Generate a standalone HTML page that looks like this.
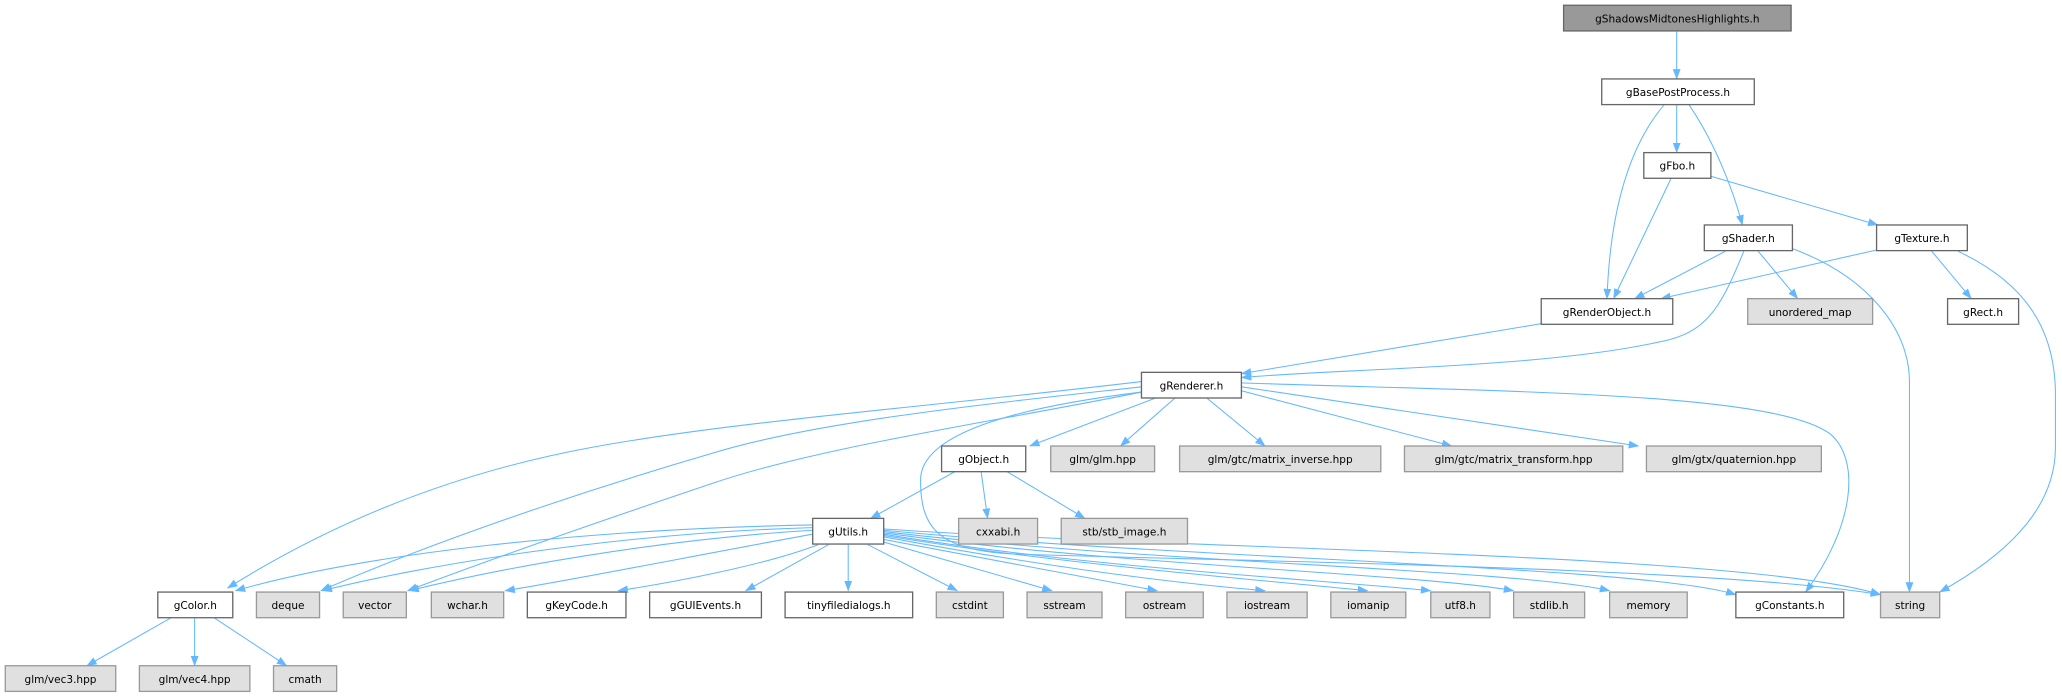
<!DOCTYPE html>
<html><head><meta charset="utf-8"><style>
html,body{margin:0;padding:0;background:#fff;}
svg{display:block;}
text{font-family:"DejaVu Sans","Liberation Sans",sans-serif;font-size:8px;fill:#000;text-anchor:middle;}
.e{fill:none;stroke:#63b8ff;stroke-width:0.8;marker-end:url(#a);}
.w{fill:#fff;stroke:#666;stroke-width:1;}
.g{fill:#e0e0e0;stroke:#999;stroke-width:1;}
.t{fill:#999;stroke:#666;stroke-width:1;}
</style></head><body>
<svg width="2062" height="696" viewBox="0 0 1568 529" preserveAspectRatio="none" xmlns="http://www.w3.org/2000/svg">
<defs><marker id="a" markerUnits="userSpaceOnUse" markerWidth="8" markerHeight="6" refX="7.5" refY="3" orient="auto"><path d="M0,0 L8,3 L0,6 z" fill="#63b8ff"/></marker></defs>
<path class="e" d="M1275,24 L1275,60"/>
<path class="e" d="M1266,79 C1235,115 1224,170 1222,227"/>
<path class="e" d="M1275,79 L1275,116"/>
<path class="e" d="M1284,79 C1305,110 1318,145 1325,171"/>
<path class="e" d="M1271,135 L1227,227"/>
<path class="e" d="M1301,134 L1428,171"/>
<path class="e" d="M1312,191 L1243,227"/>
<path class="e" d="M1326,191 C1310,230 1300,250 1270,258 C1180,280 1020,280 944,287"/>
<path class="e" d="M1337,191 L1367,227"/>
<path class="e" d="M1363,189 C1420,210 1452,250 1452,290 L1452,450"/>
<path class="e" d="M1427,190 L1263,227"/>
<path class="e" d="M1469,191 L1499,227"/>
<path class="e" d="M1489,191 C1540,215 1563,250 1563,300 L1563,340 C1563,390 1520,425 1475,450"/>
<path class="e" d="M1172,246 L944,284"/>
<path class="e" d="M880,302 L783,339"/>
<path class="e" d="M894,302 L852,339"/>
<path class="e" d="M917,302 L962,339"/>
<path class="e" d="M944,297 L1104,339"/>
<path class="e" d="M944,294 L1246,339"/>
<path class="e" d="M944,291 C1150,298 1350,298 1392,330 C1415,350 1410,400 1373,450"/>
<path class="e" d="M868,298 C770,310 700,330 700,365 C700,400 712,418 770,421 C900,426 1300,430 1430,452"/>
<path class="e" d="M868,290 C700,310 560,320 450,340 C330,362 240,405 173,447"/>
<path class="e" d="M868,294 C760,306 620,320 540,345 C420,380 310,420 244,449"/>
<path class="e" d="M868,298 C760,320 620,340 540,368 C430,405 360,430 310,449"/>
<path class="e" d="M727,358 L662,394"/>
<path class="e" d="M746,358 L751,394"/>
<path class="e" d="M765,358 L825,394"/>
<path class="e" d="M618,399 C450,402 280,420 179,449"/>
<path class="e" d="M618,401 C470,405 320,430 245,449"/>
<path class="e" d="M618,403 C500,410 380,432 311,449"/>
<path class="e" d="M618,406 C540,420 440,440 384,449"/>
<path class="e" d="M622,414 C580,430 510,443 470,449"/>
<path class="e" d="M630,414 L567,449"/>
<path class="e" d="M645,414 L645,449"/>
<path class="e" d="M660,414 L728,449"/>
<path class="e" d="M672,412 L800,449"/>
<path class="e" d="M672,410 L880,449"/>
<path class="e" d="M672,408 C780,428 880,442 962,449"/>
<path class="e" d="M672,407 C800,428 950,440 1040,449"/>
<path class="e" d="M672,406 C830,432 1000,440 1088,449"/>
<path class="e" d="M672,405 C850,430 1080,436 1151,449"/>
<path class="e" d="M672,404 C870,428 1150,432 1224,449"/>
<path class="e" d="M672,403 C900,425 1250,430 1320,452"/>
<path class="e" d="M672,402 C900,418 1330,420 1430,452"/>
<path class="e" d="M131,469 L66,506"/>
<path class="e" d="M148,469 L148,506"/>
<path class="e" d="M162,469 L218,506"/>
<rect class="t" x="1189" y="4" width="173" height="19.5"/><text x="1275.5" y="17">gShadowsMidtonesHighlights.h</text>
<rect class="w" x="1218" y="60" width="116" height="19.5"/><text x="1276" y="73">gBasePostProcess.h</text>
<rect class="w" x="1250" y="116" width="51" height="19.5"/><text x="1275.5" y="129">gFbo.h</text>
<rect class="w" x="1296" y="171" width="67" height="19.5"/><text x="1329.5" y="184">gShader.h</text>
<rect class="w" x="1427" y="171" width="69" height="19.5"/><text x="1461.5" y="184">gTexture.h</text>
<rect class="w" x="1172" y="227" width="100" height="19.5"/><text x="1222" y="240">gRenderObject.h</text>
<rect class="g" x="1329" y="227" width="95" height="19.5"/><text x="1376.5" y="240">unordered_map</text>
<rect class="w" x="1481" y="227" width="54" height="19.5"/><text x="1508" y="240">gRect.h</text>
<rect class="w" x="868" y="283" width="76" height="19.5"/><text x="906" y="296">gRenderer.h</text>
<rect class="w" x="716" y="339" width="64" height="19.5"/><text x="748" y="352">gObject.h</text>
<rect class="g" x="799" y="339" width="79" height="19.5"/><text x="838.5" y="352">glm/glm.hpp</text>
<rect class="g" x="897" y="339" width="153" height="19.5"/><text x="973.5" y="352">glm/gtc/matrix_inverse.hpp</text>
<rect class="g" x="1068" y="339" width="166" height="19.5"/><text x="1151" y="352">glm/gtc/matrix_transform.hpp</text>
<rect class="g" x="1252" y="339" width="133" height="19.5"/><text x="1318.5" y="352">glm/gtx/quaternion.hpp</text>
<rect class="w" x="618" y="394" width="54" height="19.5"/><text x="645" y="407">gUtils.h</text>
<rect class="g" x="729" y="394" width="60" height="19.5"/><text x="759" y="407">cxxabi.h</text>
<rect class="g" x="807" y="394" width="96" height="19.5"/><text x="855" y="407">stb/stb_image.h</text>
<rect class="w" x="120" y="450" width="57" height="19.5"/><text x="148.5" y="463">gColor.h</text>
<rect class="g" x="195" y="450" width="48" height="19.5"/><text x="219" y="463">deque</text>
<rect class="g" x="261" y="450" width="48" height="19.5"/><text x="285" y="463">vector</text>
<rect class="g" x="328" y="450" width="55" height="19.5"/><text x="355.5" y="463">wchar.h</text>
<rect class="w" x="401" y="450" width="75" height="19.5"/><text x="438.5" y="463">gKeyCode.h</text>
<rect class="w" x="494" y="450" width="85" height="19.5"/><text x="536.5" y="463">gGUIEvents.h</text>
<rect class="w" x="597" y="450" width="97" height="19.5"/><text x="645.5" y="463">tinyfiledialogs.h</text>
<rect class="g" x="712" y="450" width="51" height="19.5"/><text x="737.5" y="463">cstdint</text>
<rect class="g" x="781" y="450" width="57" height="19.5"/><text x="809.5" y="463">sstream</text>
<rect class="g" x="856" y="450" width="59" height="19.5"/><text x="885.5" y="463">ostream</text>
<rect class="g" x="933" y="450" width="61" height="19.5"/><text x="963.5" y="463">iostream</text>
<rect class="g" x="1012" y="450" width="57" height="19.5"/><text x="1040.5" y="463">iomanip</text>
<rect class="g" x="1088" y="450" width="45" height="19.5"/><text x="1110.5" y="463">utf8.h</text>
<rect class="g" x="1151" y="450" width="54" height="19.5"/><text x="1178" y="463">stdlib.h</text>
<rect class="g" x="1224" y="450" width="59" height="19.5"/><text x="1253.5" y="463">memory</text>
<rect class="w" x="1320" y="450" width="82" height="19.5"/><text x="1361" y="463">gConstants.h</text>
<rect class="g" x="1430" y="450" width="45" height="19.5"/><text x="1452.5" y="463">string</text>
<rect class="g" x="4" y="506" width="84" height="19.5"/><text x="46" y="519">glm/vec3.hpp</text>
<rect class="g" x="106" y="506" width="84" height="19.5"/><text x="148" y="519">glm/vec4.hpp</text>
<rect class="g" x="208" y="506" width="48" height="19.5"/><text x="232" y="519">cmath</text>
</svg>
</body></html>
